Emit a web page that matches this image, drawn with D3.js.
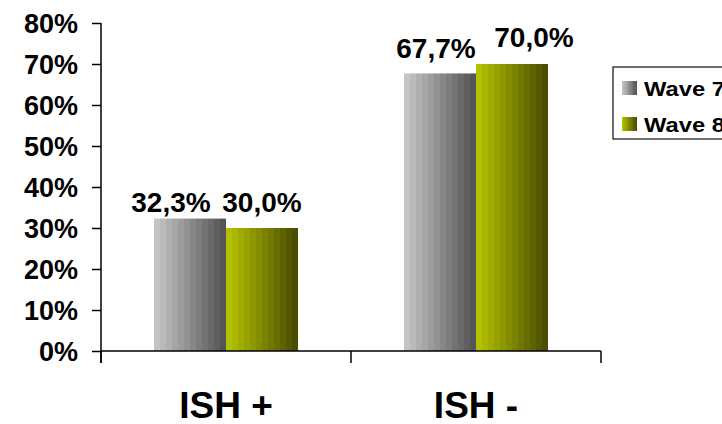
<!DOCTYPE html>
<html>
<head>
<meta charset="utf-8">
<script src="https://cdn.jsdelivr.net/npm/d3@7"></script>
<style>
  html, body { margin: 0; padding: 0; background: #fff; }
  svg { display: block; font-family: Arial, "Liberation Sans", Helvetica, sans-serif; font-weight: bold; }
</style>
</head>
<body>
<svg id="chart" width="722" height="424"></svg>
<script>
// Share of cases by ISH status, two survey waves
const categories = ["ISH +", "ISH -"];
const series = ["Wave 7", "Wave 8"];
const wave7 = [0.323, 0.677];
const wave8 = [0.300, 0.700];
const yTicks = [0, 0.1, 0.2, 0.3, 0.4, 0.5, 0.6, 0.7, 0.8];
const valueLabels = [["32,3%", "67,7%"], ["30,0%", "70,0%"]];

const values = [wave7, wave8];

// Manual nudges for the value labels (series index, category index) -> [dx, dy]
const labelNudge = [[[-19, 9], [-4, 1]], [[0, 0], [22, -1]]];

const svg = d3.select("#chart");
const defs = svg.append("defs");

// Banded horizontal shading for each series
const shades = [
  ["#c4c4c4", "#555555"],
  ["#b3c200", "#4b4d00"]
];
shades.forEach((pair, i) => {
  const g = defs.append("linearGradient")
    .attr("id", "grad" + i)
    .attr("x1", "0%").attr("x2", "100%").attr("y1", "0%").attr("y2", "0%");
  const steps = 12;
  const interp = d3.interpolateRgb(pair[0], pair[1]);
  for (let s = 0; s < steps; s++) {
    const c = interp(s / (steps - 1));
    g.append("stop").attr("offset", (s / steps * 100) + "%").attr("stop-color", c);
    g.append("stop").attr("offset", ((s + 1) / steps * 100) + "%").attr("stop-color", c);
  }
});

const plotLeft = 101, plotRight = 601, plotTop = 23, plotBottom = 351;

const x0 = d3.scaleBand().domain(categories).range([plotLeft, plotRight]).padding(0);
const x1 = d3.scaleBand().domain(series).range([0, x0.bandwidth()])
  .paddingInner(0).paddingOuter(0.736);
const y = d3.scaleLinear().domain([0, 0.8]).range([plotBottom, plotTop]);

// Bars
categories.forEach((cat, ci) => {
  series.forEach((s, si) => {
    const v = values[si][ci];
    svg.append("rect")
      .attr("x", x0(cat) + x1(s))
      .attr("y", y(v))
      .attr("width", x1.bandwidth())
      .attr("height", y(0) - y(v))
      .attr("fill", "url(#grad" + si + ")");
  });
});

// Y axis
const yAxis = d3.axisLeft(y)
  .tickValues(yTicks)
  .tickFormat(d3.format(".0%"))
  .tickSize(9)
  .tickSizeOuter(0)
  .tickPadding(14);
const yg = svg.append("g").attr("transform", `translate(${plotLeft},0)`).call(yAxis);
yg.select(".domain").remove();
yg.selectAll(".tick line").attr("stroke", "#000").attr("stroke-width", 1.5);
yg.selectAll(".tick text")
  .attr("font-size", 27)
  .attr("font-weight", "bold")
  .attr("font-family", "Arial, 'Liberation Sans', sans-serif")
  .attr("fill", "#000")
  .attr("dy", "0.36em");
svg.append("line")
  .attr("x1", plotLeft).attr("x2", plotLeft).attr("y1", plotTop).attr("y2", plotBottom + 12)
  .attr("stroke", "#000").attr("stroke-width", 1.5);

// X axis with category boundary ticks
svg.append("line")
  .attr("x1", plotLeft).attr("x2", plotRight).attr("y1", plotBottom).attr("y2", plotBottom)
  .attr("stroke", "#000").attr("stroke-width", 1.5);
const bounds = categories.map(c => x0(c)).concat([x0(categories[categories.length - 1]) + x0.bandwidth()]);
svg.selectAll(".bound").data(bounds).enter().append("line")
  .attr("class", "bound")
  .attr("x1", d => d).attr("x2", d => d)
  .attr("y1", plotBottom).attr("y2", plotBottom + 12)
  .attr("stroke", "#000").attr("stroke-width", 1.5);

svg.selectAll(".cat").data(categories).enter().append("text")
  .attr("class", "cat")
  .attr("x", d => x0(d) + x0.bandwidth() / 2)
  .attr("y", 418)
  .attr("text-anchor", "middle")
  .attr("font-size", 37)
  .attr("fill", "#000")
  .text(d => d);

// Value labels
categories.forEach((cat, ci) => {
  series.forEach((s, si) => {
    const v = values[si][ci];
    const n = labelNudge[si][ci];
    svg.append("text")
      .attr("x", x0(cat) + x1(s) + x1.bandwidth() / 2 + n[0])
      .attr("y", y(v) - 16 + n[1])
      .attr("text-anchor", "middle")
      .attr("font-size", 28)
      .attr("fill", "#000")
      .text(valueLabels[si][ci]);
  });
});

// Legend (runs past the right edge of the canvas)
const lg = svg.append("g").attr("transform", "translate(613,67)");
lg.append("rect")
  .attr("x", 0).attr("y", 0).attr("width", 140).attr("height", 72)
  .attr("fill", "#fff").attr("stroke", "#222").attr("stroke-width", 1.3);
series.forEach((s, si) => {
  const row = lg.append("g").attr("transform", `translate(9,${14 + si * 36})`);
  row.append("rect")
    .attr("x", 0).attr("y", 0).attr("width", 15).attr("height", 14)
    .attr("fill", "url(#grad" + si + ")");
  row.append("text")
    .attr("transform", "translate(22,14.5) scale(1.13,1)")
    .attr("font-size", 21)
    .attr("fill", "#000")
    .text(s);
});
</script>
</body>
</html>
